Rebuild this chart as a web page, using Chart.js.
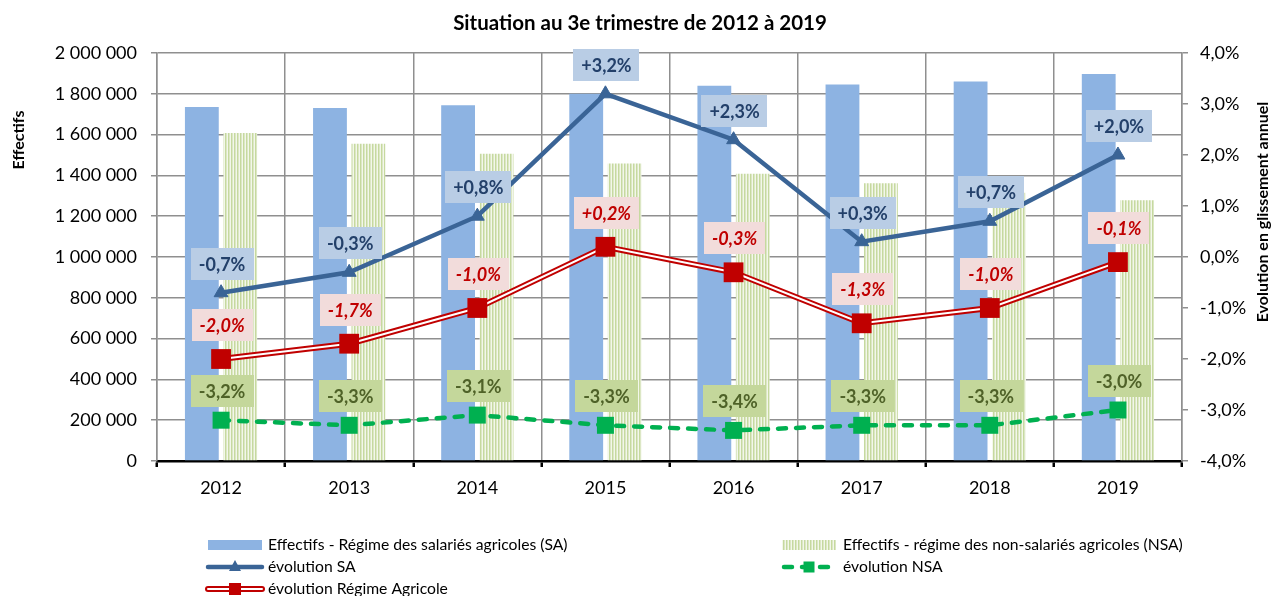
<!DOCTYPE html>
<html lang="fr">
<head>
<meta charset="utf-8">
<title>Situation au 3e trimestre de 2012 à 2019</title>
<script src="https://cdn.jsdelivr.net/npm/chart.js@4.4.1/dist/chart.umd.min.js"></script>
<style>
    html, body { margin: 0; padding: 0; background: #fff; }
    #chart { display: block; }
</style>
</head>
<body>
<canvas id="chart" width="1271" height="596"></canvas>
<script>
const years = ['2012', '2013', '2014', '2015', '2016', '2017', '2018', '2019'];
const effectifsSA = [1735000, 1730000, 1744000, 1800000, 1840000, 1846000, 1860000, 1897000];
const effectifsNSA = [1608000, 1555000, 1506000, 1458000, 1408000, 1362000, 1315000, 1278000];
const evolutionSA = [-0.7, -0.3, 0.8, 3.2, 2.3, 0.3, 0.7, 2.0];
const evolutionNSA = [-3.2, -3.3, -3.1, -3.3, -3.4, -3.3, -3.3, -3.0];
const evolutionRA = [-2.0, -1.7, -1.0, 0.2, -0.3, -1.3, -1.0, -0.1];

const titleText = 'Situation au 3e trimestre de 2012 à 2019';
const leftAxisTitle = 'Effectifs';
const rightAxisTitle = 'Evolution en glissement annuel';
const legendLabels = [
    'Effectifs - Régime des salariés agricoles (SA)',
    'Effectifs - régime des non-salariés agricoles (NSA)',
    'évolution SA',
    'évolution NSA',
    'évolution Régime Agricole'
];

const FONT = 'Lato, "Open Sans", sans-serif';
const BLUE_BAR = '#8db3e2';
const BLUE_LINE = '#3a6496';
const GREEN = '#00b050';
const RED = '#c00000';
const GRID = '#8f8f8f';

const fmtThousands = (v) => String(v).replace(/\B(?=(\d{3})+(?!\d))/g, ' ');
const fmtPct = (v, sign) => (sign && v > 0 ? '+' : '') + v.toFixed(1).replace('.', ',') + '%';

// stripes for the NSA bars
makeStripes = (ctx) => {
    const c = document.createElement('canvas');
    c.width = 3;
    c.height = 6;
    const g = c.getContext('2d');
    g.fillStyle = '#f3f7ea';
    g.fillRect(0, 0, 3, 6);
    g.fillStyle = '#c6d99f';
    g.fillRect(0, 0, 1, 6);
    g.fillStyle = '#dce7c5';
    g.fillRect(1, 0, 1, 6);
    return ctx.createPattern(c, 'repeat');
}

// boxes with the % values above the points
const labelStyles = {
    0: { bg: '#b9cde5', color: '#23406a', font: 'bold 18px ' + FONT, offset: 29 },
    1: { bg: '#c4d79b', color: '#4f6228', font: 'bold 18px ' + FONT, offset: 29 },
    2: { bg: '#f2dcdb', color: RED, font: 'italic bold 18px ' + FONT, offset: 34 }
};

const valueLabels = {
    id: 'valueLabels',
    afterDatasetsDraw(chart) {
        const ctx = chart.ctx;
        ctx.save();
        Object.keys(labelStyles).forEach((idx) => {
            const style = labelStyles[idx];
            const meta = chart.getDatasetMeta(Number(idx));
            const data = chart.data.datasets[idx].data;
            ctx.font = style.font;
            ctx.textAlign = 'center';
            ctx.textBaseline = 'middle';
            meta.data.forEach((pt, i) => {
                const txt = fmtPct(data[i], true);
                const w = ctx.measureText(txt).width + 16;
                const h = 32;
                const cx = pt.x + 1;
                const cy = pt.y - style.offset;
                ctx.fillStyle = style.bg;
                ctx.fillRect(Math.round(cx - w / 2), Math.round(cy - h / 2), Math.round(w), h);
                ctx.fillStyle = style.color;
                ctx.fillText(txt, cx, cy + 1);
            });
        });
        ctx.restore();
    }
};

const square = (ctx, x, y, s, color) => {
    ctx.fillStyle = color;
    ctx.fillRect(x - s / 2, y - s / 2, s, s);
}

const decorations = {
    id: 'decorations',
    afterDraw(chart) {
        const ctx = chart.ctx;
        ctx.save();
        ctx.fillStyle = '#000';
        ctx.textAlign = 'center';
        ctx.textBaseline = 'middle';
        ctx.font = 'bold 20.5px ' + FONT;
        ctx.fillText(titleText, 640, 23);

        ctx.font = 'bold 16px ' + FONT;
        ctx.save();
        ctx.translate(19, 140);
        ctx.rotate(-Math.PI / 2);
        ctx.fillText(leftAxisTitle, 0, 0);
        ctx.restore();
        ctx.save();
        ctx.translate(1263, 212);
        ctx.rotate(-Math.PI / 2);
        ctx.fillText(rightAxisTitle, 0, 0);
        ctx.restore();

        // legend, two columns like the original
        const rows = [545, 567, 589];
        const col1 = 208, col2 = 782, sw = 54;
        ctx.fillStyle = BLUE_BAR;
        ctx.fillRect(col1, rows[0] - 5, sw, 10);
        ctx.fillStyle = chart.data.datasets[4].backgroundColor;
        ctx.fillRect(col2, rows[0] - 5, sw, 10);

        ctx.lineCap = 'round';
        ctx.strokeStyle = BLUE_LINE;
        ctx.lineWidth = 4.5;
        ctx.beginPath();
        ctx.moveTo(col1, rows[1]);
        ctx.lineTo(col1 + sw, rows[1]);
        ctx.stroke();
        ctx.fillStyle = BLUE_LINE;
        ctx.beginPath();
        ctx.moveTo(col1 + 27, rows[1] - 7);
        ctx.lineTo(col1 + 33, rows[1] + 4);
        ctx.lineTo(col1 + 21, rows[1] + 4);
        ctx.closePath();
        ctx.fill();

        ctx.strokeStyle = GREEN;
        ctx.setLineDash([8, 10]);
        ctx.beginPath();
        ctx.moveTo(col2 + 2, rows[1]);
        ctx.lineTo(col2 + sw, rows[1]);
        ctx.stroke();
        ctx.setLineDash([]);
        square(ctx, col2 + 27, rows[1], 11, GREEN);

        ctx.strokeStyle = RED;
        ctx.lineWidth = 6;
        ctx.beginPath();
        ctx.moveTo(col1, rows[2]);
        ctx.lineTo(col1 + sw, rows[2]);
        ctx.stroke();
        ctx.strokeStyle = '#fff';
        ctx.lineWidth = 2;
        ctx.beginPath();
        ctx.moveTo(col1, rows[2]);
        ctx.lineTo(col1 + sw, rows[2]);
        ctx.stroke();
        square(ctx, col1 + 27, rows[2], 12, RED);

        ctx.fillStyle = '#000';
        ctx.textAlign = 'left';
        ctx.font = '15.7px ' + FONT;
        ctx.fillText(legendLabels[0], col1 + 60, rows[0]);
        ctx.fillText(legendLabels[1], col2 + 61, rows[0]);
        ctx.fillText(legendLabels[2], col1 + 60, rows[1]);
        ctx.fillText(legendLabels[3], col2 + 61, rows[1]);
        ctx.fillText(legendLabels[4], col1 + 60, rows[2]);
        ctx.restore();
    }
};

drawChart = () => {
    const canvas = document.getElementById('chart');
    const ctx = canvas.getContext('2d');
    new Chart(ctx, {
        data: {
            labels: years,
            datasets: [
                {
                    type: 'line',
                    label: legendLabels[2],
                    data: evolutionSA,
                    yAxisID: 'y1',
                    borderColor: BLUE_LINE,
                    borderWidth: 4.5,
                    pointStyle: 'triangle',
                    pointRadius: 8,
                    pointBackgroundColor: BLUE_LINE,
                    pointBorderColor: BLUE_LINE,
                    pointBorderWidth: 1,
                    order: 1
                },
                {
                    type: 'line',
                    label: legendLabels[3],
                    data: evolutionNSA,
                    yAxisID: 'y1',
                    borderColor: GREEN,
                    borderWidth: 4.5,
                    borderDash: [8, 10],
                    borderCapStyle: 'round',
                    pointStyle: 'rect',
                    pointRadius: 12,
                    pointBackgroundColor: GREEN,
                    pointBorderColor: GREEN,
                    pointBorderWidth: 0,
                    order: 2
                },
                {
                    // inner white line of the double red line, carries the markers
                    type: 'line',
                    label: legendLabels[4],
                    data: evolutionRA,
                    yAxisID: 'y1',
                    borderColor: '#ffffff',
                    borderWidth: 2,
                    pointStyle: 'rect',
                    pointRadius: 14,
                    pointBackgroundColor: RED,
                    pointBorderColor: RED,
                    pointBorderWidth: 0,
                    order: 3
                },
                {
                    type: 'line',
                    label: legendLabels[4] + ' (contour)',
                    data: evolutionRA,
                    yAxisID: 'y1',
                    borderColor: RED,
                    borderWidth: 6,
                    pointRadius: 0,
                    order: 4
                },
                {
                    type: 'bar',
                    label: legendLabels[1],
                    data: effectifsNSA,
                    yAxisID: 'y',
                    backgroundColor: makeStripes(ctx),
                    categoryPercentage: 0.6,
                    barPercentage: 0.88,
                    order: 11
                },
                {
                    type: 'bar',
                    label: legendLabels[0],
                    data: effectifsSA,
                    yAxisID: 'y',
                    backgroundColor: BLUE_BAR,
                    categoryPercentage: 0.6,
                    barPercentage: 0.88,
                    order: 10
                }
            ]
        },
        options: {
            responsive: false,
            animation: false,
            layout: { padding: { top: 53, bottom: 95, left: 0, right: 0 } },
            plugins: {
                legend: { display: false },
                title: { display: false },
                tooltip: { enabled: false }
            },
            scales: {
                x: {
                    offset: true,
                    grid: { offset: true, color: GRID, lineWidth: 1.5, tickColor: '#000', tickWidth: 2.5, tickLength: 6 },
                    border: { color: '#000', width: 2.5 },
                    ticks: { color: '#000', font: { family: FONT, size: 18 }, padding: 10 },
                    afterFit: (scale) => { scale.height = 40; }
                },
                y: {
                    position: 'left',
                    min: 0,
                    max: 2000000,
                    grid: { color: GRID, lineWidth: 1.5, tickLength: 6 },
                    border: { color: GRID, width: 1.5 },
                    ticks: {
                        stepSize: 200000,
                        color: '#000',
                        font: { family: FONT, size: 18 },
                        padding: 14,
                        callback: (v) => fmtThousands(v)
                    },
                    afterFit: (scale) => { scale.width = 157; }
                },
                y1: {
                    position: 'right',
                    min: -4,
                    max: 4,
                    grid: { drawOnChartArea: false, color: GRID, lineWidth: 1.5, tickLength: 6 },
                    border: { color: GRID, width: 1.5 },
                    ticks: {
                        stepSize: 1,
                        color: '#000',
                        font: { family: FONT, size: 18 },
                        padding: 12,
                        callback: (v) => fmtPct(v, false)
                    },
                    afterFit: (scale) => { scale.width = 89; }
                }
            }
        },
        plugins: [valueLabels, decorations]
    });
}

Promise.all([
    document.fonts.load('18px Lato'),
    document.fonts.load('bold 18px Lato'),
    document.fonts.load('italic bold 18px Lato')
]).then(drawChart, drawChart);
</script>
</body>
</html>
